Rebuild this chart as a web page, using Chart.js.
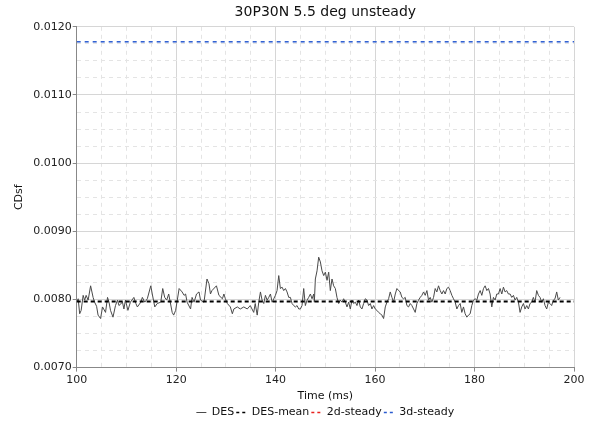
<!DOCTYPE html>
<html>
<head>
<meta charset="utf-8">
<title>30P30N 5.5 deg unsteady</title>
<script src="https://cdn.jsdelivr.net/npm/chart.js@4/dist/chart.umd.min.js"></script>
<style>
  html, body { margin: 0; padding: 0; background: #fff; }
  #chart { display: block; }
</style>
</head>
<body>
<canvas id="chart" width="593" height="429"></canvas>
<script>
// DES time history (time in ms)
const timeMs = [
    100.0, 100.3, 100.6, 100.9, 101.3, 101.6, 101.9, 102.3, 102.8, 103.3, 103.6, 104.0, 104.3,
    104.8, 105.2, 105.8, 106.2, 106.5, 106.8, 107.3, 107.8, 108.2, 108.5,
    109.2, 109.5, 109.8, 110.3, 110.8, 111.5, 111.9, 112.2, 112.9, 113.2,
    113.7, 114.2, 114.9, 115.2, 115.7, 116.2, 116.9, 117.3, 117.7, 118.1,
    118.5, 119.2, 119.5, 119.9,
    120.6, 121.2, 121.6, 121.9, 122.2, 122.9, 123.2, 123.6, 124.1, 124.6,
    124.9, 125.6, 126.2, 126.6, 126.9, 127.2, 128.1, 128.6, 129.3, 129.6,
    129.9, 130.3, 130.9, 131.3, 131.6, 132.3, 132.9, 133.6, 134.3, 134.9,
    135.6, 135.9, 136.3,
    136.61, 136.95, 137.28, 137.62, 137.95, 138.29, 138.62, 138.96, 139.29, 139.63,
    139.96, 140.29, 140.63, 140.96, 141.30, 141.63, 141.97, 142.30, 142.64, 142.97,
    143.31, 143.64, 143.98, 144.31, 144.65, 144.98, 145.31, 145.65, 145.98, 146.32,
    146.65, 146.99, 147.32, 147.66, 147.79, 147.99, 148.33, 148.66, 149.00, 149.33,
    149.67, 150.00, 150.34, 150.67, 151.00, 151.34, 151.67, 152.01, 152.34, 152.68,
    153.01, 153.35, 153.68, 154.02, 154.35, 154.69, 155.02, 155.35, 155.69, 156.02,
    156.36, 156.69, 157.03, 157.36, 157.70, 158.03, 158.37, 158.70, 159.04, 159.37,
    159.71, 160.04, 160.37, 160.71, 161.04, 161.38, 161.71, 162.05, 162.38, 162.72,
    163.05, 163.39, 163.72, 164.06, 164.39, 164.73, 165.06, 165.39, 165.73, 166.06,
    166.40, 166.73, 167.07, 167.40, 167.74, 168.07, 168.41,
    168.74, 169.08, 169.41, 169.75, 170.08, 170.42, 170.75, 171.09, 171.42, 171.76,
    172.09, 172.42, 172.76, 173.09, 173.43, 173.76, 174.10, 174.43, 174.77, 175.10,
    175.44, 175.77, 176.11, 176.44, 176.78, 177.11, 177.44, 177.78, 178.11, 178.45,
    178.78, 179.12, 179.45, 179.79, 180.12, 180.46, 180.79, 181.13, 181.46, 181.80,
    182.13, 182.47, 182.80, 183.13, 183.47, 183.80, 184.14, 184.47, 184.81, 185.14,
    185.48, 185.81, 186.15, 186.48, 186.81, 187.15, 187.48, 187.82, 188.15, 188.49,
    188.82, 189.16, 189.49, 189.83, 190.16, 190.50, 190.83, 191.16, 191.50, 191.83,
    192.17, 192.50, 192.84, 193.17, 193.51, 193.84, 194.18, 194.51, 194.85, 195.18,
    195.51, 195.85, 196.18, 196.52, 196.85, 197.19
];

const cdsfDes = [
    0.00796, 0.00801, 0.00779, 0.00784, 0.00806, 0.00799, 0.00806, 0.00799, 0.00820, 0.00803, 0.00796, 0.00790, 0.00777,
    0.00772, 0.00789, 0.00781, 0.00803, 0.00796, 0.00784, 0.00774, 0.00791, 0.00799, 0.00791,
    0.00796, 0.00786, 0.00799, 0.00784, 0.00796, 0.00803, 0.00794, 0.00789, 0.00796, 0.00803,
    0.00796, 0.00801, 0.00820, 0.00808, 0.00789, 0.00794, 0.00796, 0.00816, 0.00803, 0.00799,
    0.00808, 0.00781, 0.00777, 0.00784,
    0.00816, 0.00811, 0.00806, 0.00808, 0.00796, 0.00786, 0.00803, 0.00796, 0.00808, 0.00811,
    0.00799, 0.00796, 0.00830, 0.00823, 0.00808, 0.00813, 0.00820, 0.00806, 0.00801, 0.00808,
    0.00801, 0.00794, 0.00789, 0.00779, 0.00786, 0.00789, 0.00786, 0.00789, 0.00786, 0.00791,
    0.00781, 0.00794, 0.00777,
    0.00796, 0.00811, 0.00799, 0.00794, 0.00806, 0.00799, 0.00803, 0.00808, 0.00796, 0.00801,
    0.00806, 0.00813, 0.00835, 0.00816, 0.00818, 0.00813, 0.00816, 0.00811, 0.00803, 0.00803,
    0.00794, 0.00791, 0.00789, 0.00791, 0.00786, 0.00786, 0.00791, 0.00816, 0.00791, 0.00799,
    0.00803, 0.00808, 0.00801, 0.00808, 0.00796, 0.00830, 0.00842, 0.00862, 0.00855, 0.00842,
    0.00835, 0.00840, 0.00828, 0.00840, 0.00813, 0.00830, 0.00820, 0.00816, 0.00803, 0.00794,
    0.00799, 0.00796, 0.00801, 0.00796, 0.00789, 0.00796, 0.00786, 0.00799, 0.00794, 0.00796,
    0.00791, 0.00799, 0.00789, 0.00786, 0.00794, 0.00801, 0.00799, 0.00791, 0.00794, 0.00786,
    0.00791, 0.00786, 0.00784, 0.00781, 0.00779, 0.00777, 0.00772, 0.00789, 0.00796, 0.00801,
    0.00811, 0.00803, 0.00796, 0.00808, 0.00816, 0.00813, 0.00811, 0.00803, 0.00801, 0.00803,
    0.00791, 0.00789, 0.00794, 0.00791, 0.00786, 0.00781, 0.00794,
    0.00799, 0.00803, 0.00806, 0.00811, 0.00806, 0.00813, 0.00799, 0.00803, 0.00796, 0.00803,
    0.00816, 0.00811, 0.00820, 0.00813, 0.00808, 0.00813, 0.00808, 0.00816, 0.00818, 0.00813,
    0.00806, 0.00801, 0.00796, 0.00786, 0.00791, 0.00794, 0.00781, 0.00789, 0.00779, 0.00774,
    0.00777, 0.00779, 0.00791, 0.00799, 0.00801, 0.00799, 0.00808, 0.00813, 0.00806, 0.00816,
    0.00820, 0.00813, 0.00816, 0.00808, 0.00789, 0.00803, 0.00799, 0.00808, 0.00808, 0.00816,
    0.00808, 0.00818, 0.00811, 0.00813, 0.00808, 0.00808, 0.00803, 0.00806, 0.00799, 0.00803,
    0.00796, 0.00781, 0.00789, 0.00794, 0.00786, 0.00791, 0.00786, 0.00794, 0.00796, 0.00803,
    0.00796, 0.00813, 0.00806, 0.00803, 0.00796, 0.00801, 0.00791, 0.00786, 0.00796, 0.00794,
    0.00791, 0.00799, 0.00801, 0.00811, 0.00799, 0.00803
];

// reference levels, drawn across the whole time window
const timeRange = [100, 200];
const desMean = [0.00797, 0.00797];
const steady2d = [];            // lies outside the plotted CDsf range, nothing visible
const steady3d = [0.01178, 0.01178];

const xMajorTicks = [100, 120, 140, 160, 180, 200];
const yMajorTicks = [0.0070, 0.0080, 0.0090, 0.0100, 0.0110, 0.0120];

const FONT = 'DejaVu Sans';
Chart.defaults.font.family = FONT;
Chart.defaults.font.size = 11;
Chart.defaults.color = '#222';

function points(xs, ys) {
    return ys.map((y, i) => ({ x: xs[i], y: y }));
}

// minor grid: skip positions that already have a solid major line
function isMajor(v, step) {
    const r = v / step;
    return Math.abs(r - Math.round(r)) < 1e-6;
}

// legend swatches: short line in the series' own colour and dash
function legendLabels(chart) {
    const items = Chart.defaults.plugins.legend.labels.generateLabels(chart);
    items.forEach(item => {
        const ds = chart.data.datasets[item.datasetIndex];
        item.strokeStyle = ds.borderColor;
        item.fillStyle = ds.borderColor;
        item.lineWidth = ds.borderDash ? 1.5 : 1;
        item.lineDash = ds.borderDash ? [3, 3] : [];
    });
    return items;
}

const ctx = document.getElementById('chart').getContext('2d');

new Chart(ctx, {
    type: 'line',
    data: {
        datasets: [
            {
                label: 'DES',
                data: points(timeMs, cdsfDes),
                borderColor: '#4a4a4a',
                borderWidth: 1,
                pointRadius: 0,
                order: 2
            },
            {
                label: 'DES-mean',
                data: points(timeRange, desMean),
                borderColor: '#000',
                borderWidth: 2,
                borderDash: [4, 3],
                pointRadius: 0,
                order: 1
            },
            {
                label: '2d-steady',
                data: points(timeRange, steady2d),
                borderColor: '#e8221e',
                borderWidth: 1.5,
                borderDash: [4, 4],
                pointRadius: 0,
                order: 1
            },
            {
                label: '3d-steady',
                data: points(timeRange, steady3d),
                borderColor: '#2a5bd0',
                borderWidth: 1.5,
                borderDash: [4, 4],
                pointRadius: 0,
                order: 1
            }
        ]
    },
    options: {
        responsive: false,
        animation: false,
        layout: { padding: { left: 13, right: 19, top: 2, bottom: 1 } },
        plugins: {
            title: {
                display: true,
                text: '30P30N 5.5 deg unsteady',
                fullSize: false,
                color: '#111',
                font: { size: 14, weight: 'normal' },
                padding: { top: 2, bottom: 6 }
            },
            legend: {
                position: 'bottom',
                fullSize: false,
                labels: {
                    usePointStyle: true,
                    pointStyle: 'line',
                    pointStyleWidth: 10,
                    boxHeight: 6,
                    padding: 2,
                    color: '#111',
                    font: { size: 11 },
                    generateLabels: legendLabels,
                    sort: (a, b) => a.datasetIndex - b.datasetIndex
                }
            },
            tooltip: { enabled: false }
        },
        scales: {
            x: {
                type: 'linear',
                min: 100,
                max: 200,
                afterBuildTicks: (axis) => { axis.ticks = xMajorTicks.map(v => ({ value: v })); },
                ticks: { padding: 2, maxRotation: 0 },
                grid: { color: '#d6d6d6', tickColor: '#888', tickLength: 4 },
                border: { color: '#888' },
                title: { display: true, text: 'Time (ms)', color: '#111', padding: { top: 1, bottom: 2 } }
            },
            xMinor: {
                type: 'linear',
                position: 'bottom',
                min: 100,
                max: 200,
                ticks: { display: false, stepSize: 5 },
                grid: {
                    drawTicks: false,
                    color: (c) => isMajor(c.tick.value, 20) ? 'rgba(0,0,0,0)' : '#e4e4e4'
                },
                border: { display: false, dash: [4, 4] }
            },
            y: {
                min: 0.007,
                max: 0.012,
                afterBuildTicks: (axis) => { axis.ticks = yMajorTicks.map(v => ({ value: v })); },
                ticks: { padding: 1, callback: (v) => v.toFixed(4) },
                grid: { color: '#d6d6d6', tickColor: '#888', tickLength: 4 },
                border: { color: '#888' },
                title: { display: true, text: 'CDsf', color: '#111', padding: { top: 0, bottom: 6 } }
            },
            yMinor: {
                position: 'left',
                min: 0.007,
                max: 0.012,
                ticks: { display: false, stepSize: 0.00025 },
                grid: {
                    drawTicks: false,
                    color: (c) => isMajor(c.tick.value, 0.001) ? 'rgba(0,0,0,0)' : '#e4e4e4'
                },
                border: { display: false, dash: [4, 4] }
            }
        }
    }
});
</script>
</body>
</html>
